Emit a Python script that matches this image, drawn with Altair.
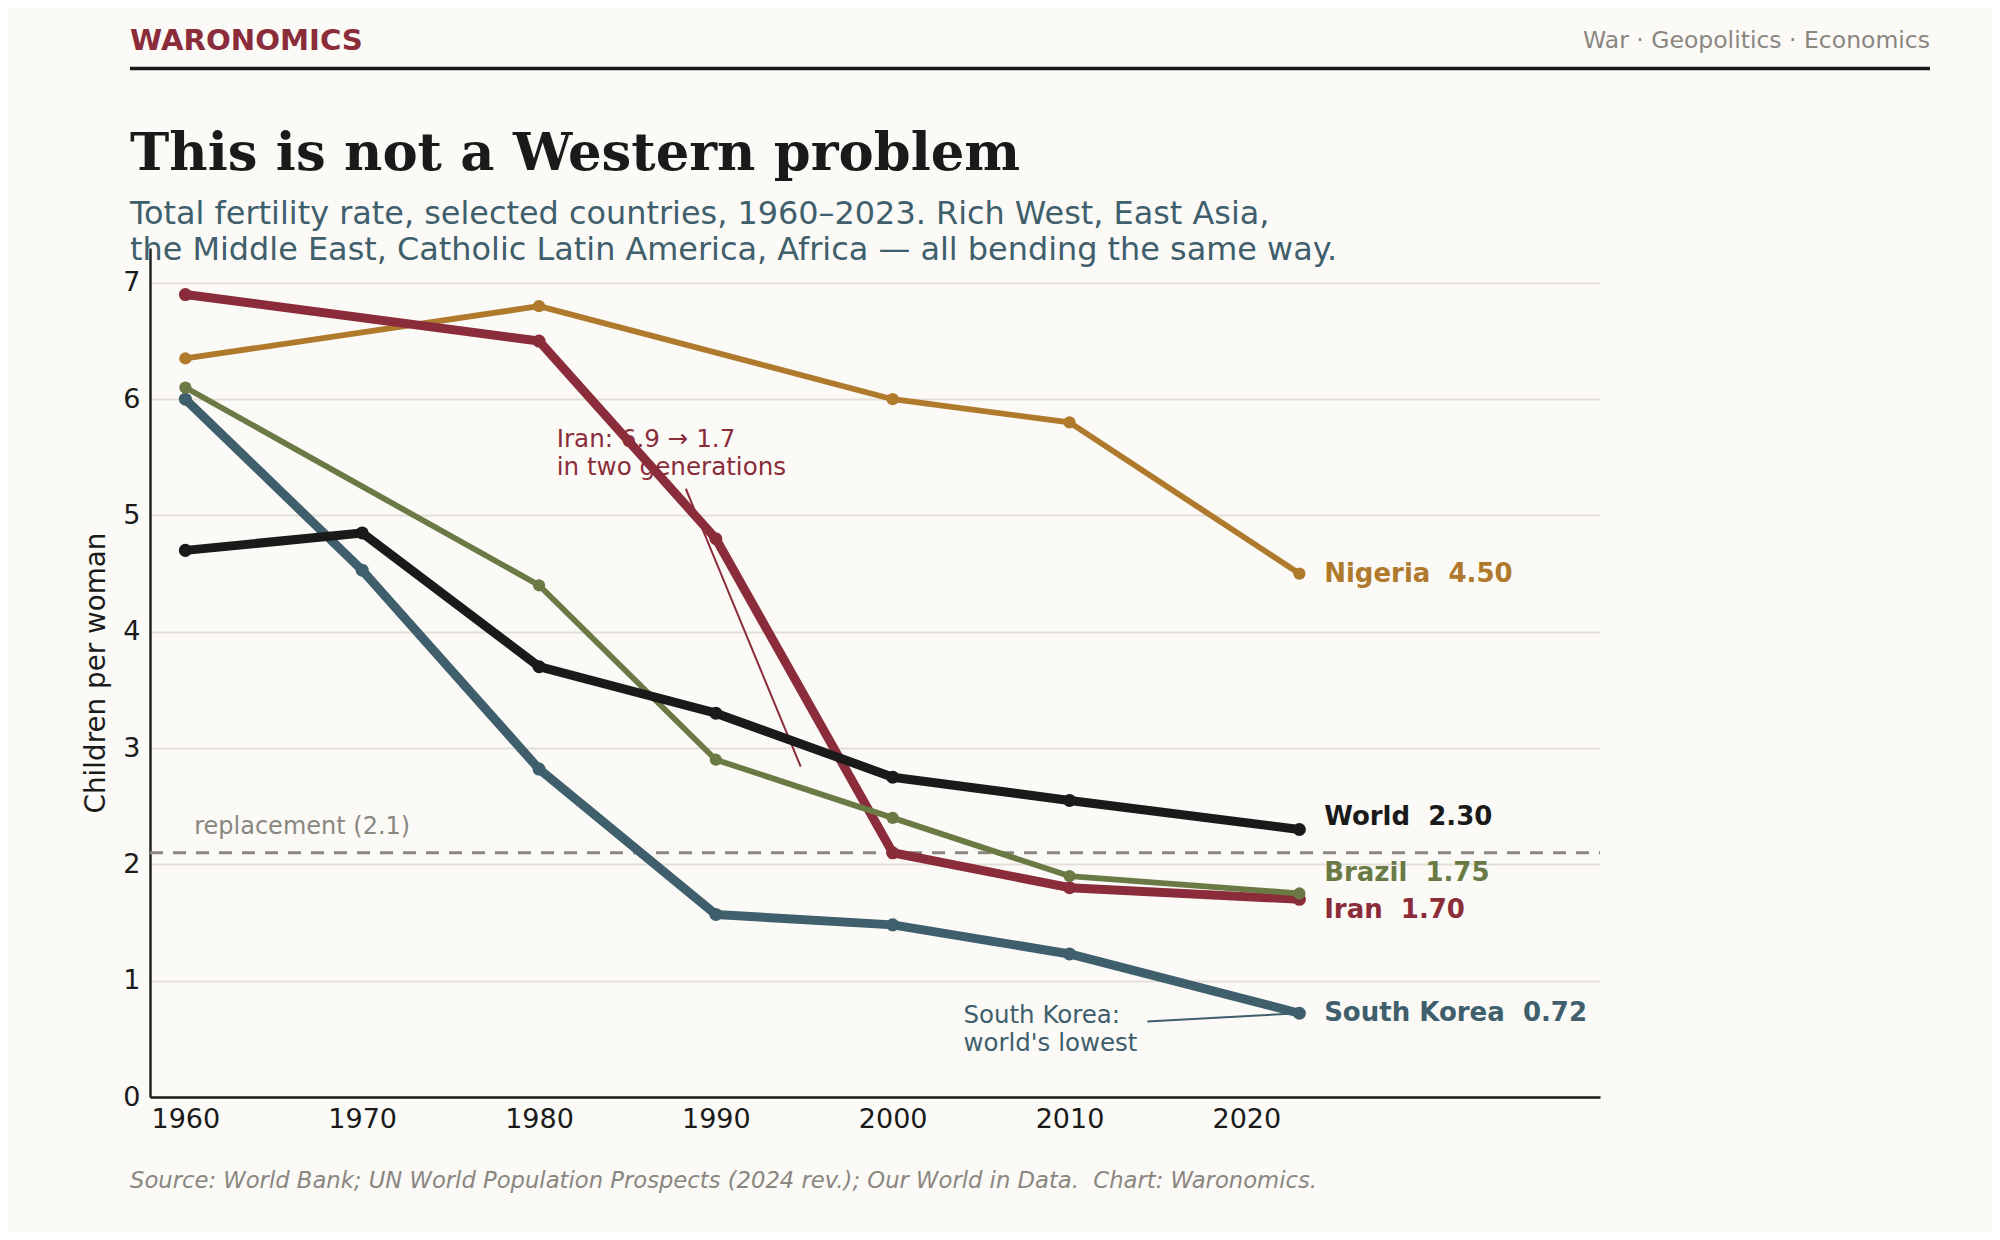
import altair as alt
import pandas as pd

# ---------------- data ----------------
nigeria_years = [1960, 1980, 2000, 2010, 2023]
nigeria_tfr = [6.35, 6.8, 6.0, 5.8, 4.5]
iran_years = [1960, 1980, 1990, 2000, 2010, 2023]
iran_tfr = [6.9, 6.5, 4.8, 2.1, 1.8, 1.7]
brazil_years = [1960, 1980, 1990, 2000, 2010, 2023]
brazil_tfr = [6.1, 4.4, 2.9, 2.4, 1.9, 1.75]
korea_years = [1960, 1970, 1980, 1990, 2000, 2010, 2023]
korea_tfr = [6.0, 4.53, 2.82, 1.57, 1.48, 1.23, 0.72]
world_years = [1960, 1970, 1980, 1990, 2000, 2010, 2023]
world_tfr = [4.7, 4.85, 3.7, 3.3, 2.75, 2.55, 2.3]

# draw order (World on top)
series_names = ["Nigeria", "Iran", "South Korea", "Brazil", "World"]
series_years = [nigeria_years, iran_years, korea_years, brazil_years, world_years]
series_values = [nigeria_tfr, iran_tfr, korea_tfr, brazil_tfr, world_tfr]
series_colors = ["#b07a2c", "#8b2c3a", "#3f5f6c", "#6b7a45", "#1a1a1a"]
series_widths = [5.8, 9.0, 9.0, 5.8, 9.0]
series_dot = [150, 170, 170, 150, 170]

# end labels
label_text = ["Nigeria\u00a0 4.50", "World\u00a0 2.30", "Brazil\u00a0 1.75",
              "Iran\u00a0 1.70", "South Korea\u00a0 0.72"]
label_color = ["#b07a2c", "#1a1a1a", "#6b7a45", "#8b2c3a", "#3f5f6c"]
label_x = [2024.4, 2024.4, 2024.4, 2024.4, 2024.4]
label_y = [4.50, 2.41, 1.93, 1.61, 0.725]

replacement_level = 2.1
x_ticks = [1960, 1970, 1980, 1990, 2000, 2010, 2020]
y_ticks = [0, 1, 2, 3, 4, 5, 6, 7]

iran_note = ["Iran: 6.9 \u2192 1.7", "in two generations"]
iran_note_y = [5.65, 5.41]
iran_arrow = {"x": [1988.3], "y": [5.23], "x2": [1994.8], "y2": [2.84]}
korea_note = ["South Korea:", "world's lowest"]
korea_note_y = [0.70, 0.46]
korea_arrow = {"x": [2014.4], "y": [0.65], "x2": [2023.0], "y2": [0.72]}

brand = "WARONOMICS"
tagline = "War \u00b7 Geopolitics \u00b7 Economics"
title = "This is not a Western problem"
subtitle = ["Total fertility rate, selected countries, 1960\u20132023. Rich West, East Asia,",
            "the Middle East, Catholic Latin America, Africa \u2014 all bending the same way."]
source = ("Source: World Bank; UN World Population Prospects (2024 rev.); "
          "Our World in Data.\u00a0 Chart: Waronomics.")

# ---------------- style ----------------
BG = "#fbfaf7"
INK = "#1a1a1a"
GREY = "#8a8680"
SLATE = "#3f5f6c"
FONT = "DejaVu Sans"
W, H = 1450, 849

xs = alt.Scale(domain=[1958, 2040], nice=False, zero=False)
ys = alt.Scale(domain=[0, 7.3], nice=False, zero=False)

x_axis = alt.Axis(values=x_ticks, format="d", grid=False, ticks=False,
                  labelFontSize=27, labelFont=FONT, labelColor=INK,
                  labelPadding=9, domainColor=INK, domainWidth=2.4, title=None)
y_axis = alt.Axis(values=y_ticks, format="d", grid=True, gridColor="#e3dfd8",
                  gridWidth=1.8, ticks=False, labelFontSize=27, labelFont=FONT,
                  labelColor=INK, labelPadding=10, domainColor=INK, domainWidth=2.4,
                  title="Children per woman", titleFont=FONT, titleFontSize=27.8,
                  titleFontWeight="normal", titleColor=INK, titleX=-54, titleY=H / 2,
                  titleAngle=270, titleBaseline="middle", titleAlign="center")


def X(field="year"):
    return alt.X(f"{field}:Q", scale=xs, axis=x_axis)


def Y(field="tfr"):
    return alt.Y(f"{field}:Q", scale=ys, axis=y_axis)


layers = []

# replacement line
repl_df = pd.DataFrame({"tfr": [replacement_level]})
layers.append(
    alt.Chart(repl_df).mark_rule(color=GREY, strokeWidth=2.8, strokeDash=[13, 10])
    .encode(y=Y(), x=alt.value(0), x2=alt.value(W))
)
layers.append(
    alt.Chart(pd.DataFrame({"year": [1960.5], "tfr": [2.32], "t": ["replacement (2.1)"]}))
    .mark_text(align="left", baseline="middle", font=FONT, fontSize=24, color=GREY)
    .encode(x=X(), y=Y(), text="t:N")
)

# annotation lines
layers.append(
    alt.Chart(pd.DataFrame(iran_arrow)).mark_rule(color="#8b2c3a", strokeWidth=2.0)
    .encode(x=X("x"), y=Y("y"), x2="x2:Q", y2="y2:Q")
)
layers.append(
    alt.Chart(pd.DataFrame(korea_arrow)).mark_rule(color=SLATE, strokeWidth=2.0)
    .encode(x=X("x"), y=Y("y"), x2="x2:Q", y2="y2:Q")
)

# series
for name, yrs, vals, col, sw, dot in zip(series_names, series_years, series_values,
                                         series_colors, series_widths, series_dot):
    df = pd.DataFrame({"year": yrs, "tfr": vals, "country": name})
    base = alt.Chart(df)
    layers.append(base.mark_line(color=col, strokeWidth=sw, strokeJoin="round")
                  .encode(x=X(), y=Y()))
    layers.append(base.mark_point(color=col, filled=True, opacity=1, size=dot)
                  .encode(x=X(), y=Y()))

# end labels
lab_df = pd.DataFrame({"year": label_x, "tfr": label_y, "t": label_text, "c": label_color})
layers.append(
    alt.Chart(lab_df).mark_text(align="left", baseline="middle", font=FONT,
                                fontSize=26, fontWeight="bold")
    .encode(x=X(), y=Y(), text="t:N", color=alt.Color("c:N", scale=None))
)

# notes
layers.append(
    alt.Chart(pd.DataFrame({"year": [1981.0, 1981.0], "tfr": iran_note_y, "t": iran_note}))
    .mark_text(align="left", baseline="middle", font=FONT, fontSize=24.6, color="#8b2c3a")
    .encode(x=X(), y=Y(), text="t:N")
)
layers.append(
    alt.Chart(pd.DataFrame({"year": [2004.0, 2004.0], "tfr": korea_note_y, "t": korea_note}))
    .mark_text(align="left", baseline="middle", font=FONT, fontSize=24.5, color=SLATE)
    .encode(x=X(), y=Y(), text="t:N")
)

# header / title / footer (page furniture, pixel placed)
def ptext(txt, x, y, **kw):
    return alt.Chart(pd.DataFrame({"t": [txt]})).mark_text(**kw).encode(
        x=alt.value(x), y=alt.value(y), text="t:N")

layers.append(ptext(brand, -20, -207.5, align="left", baseline="middle", font=FONT,
                    fontSize=29.2, fontWeight="bold", color="#8b2c3a"))
layers.append(ptext(tagline, 1780, -207.5, align="right", baseline="middle", font=FONT,
                    fontSize=23.5, color=GREY))
layers.append(
    alt.Chart(pd.DataFrame({"a": [0]})).mark_rule(color=INK, strokeWidth=3.5)
    .encode(x=alt.value(-20), x2=alt.value(1780), y=alt.value(-179.5))
)
layers.append(ptext(title, -20, -78, align="left", baseline="alphabetic",
                    font="DejaVu Serif", fontSize=52.8, fontWeight="bold", color=INK))
layers.append(ptext(subtitle[0], -20, -24, align="left", baseline="alphabetic",
                    font=FONT, fontSize=31.9, color=SLATE))
layers.append(ptext(subtitle[1], -20, 12, align="left", baseline="alphabetic",
                    font=FONT, fontSize=31.9, color=SLATE))
layers.append(ptext(source, -20, 933, align="left", baseline="middle", font=FONT,
                    fontSize=22.7, fontStyle="italic", color=GREY))

chart = alt.layer(*layers).properties(
    width=W, height=H,
    autosize=alt.AutoSizeParams(type="none"),
    padding={"left": 142, "top": 240, "right": 392, "bottom": 135},
    background=BG,
).configure_view(stroke=None)

chart.save("out.html", embed_options={"renderer": "svg", "actions": False})
